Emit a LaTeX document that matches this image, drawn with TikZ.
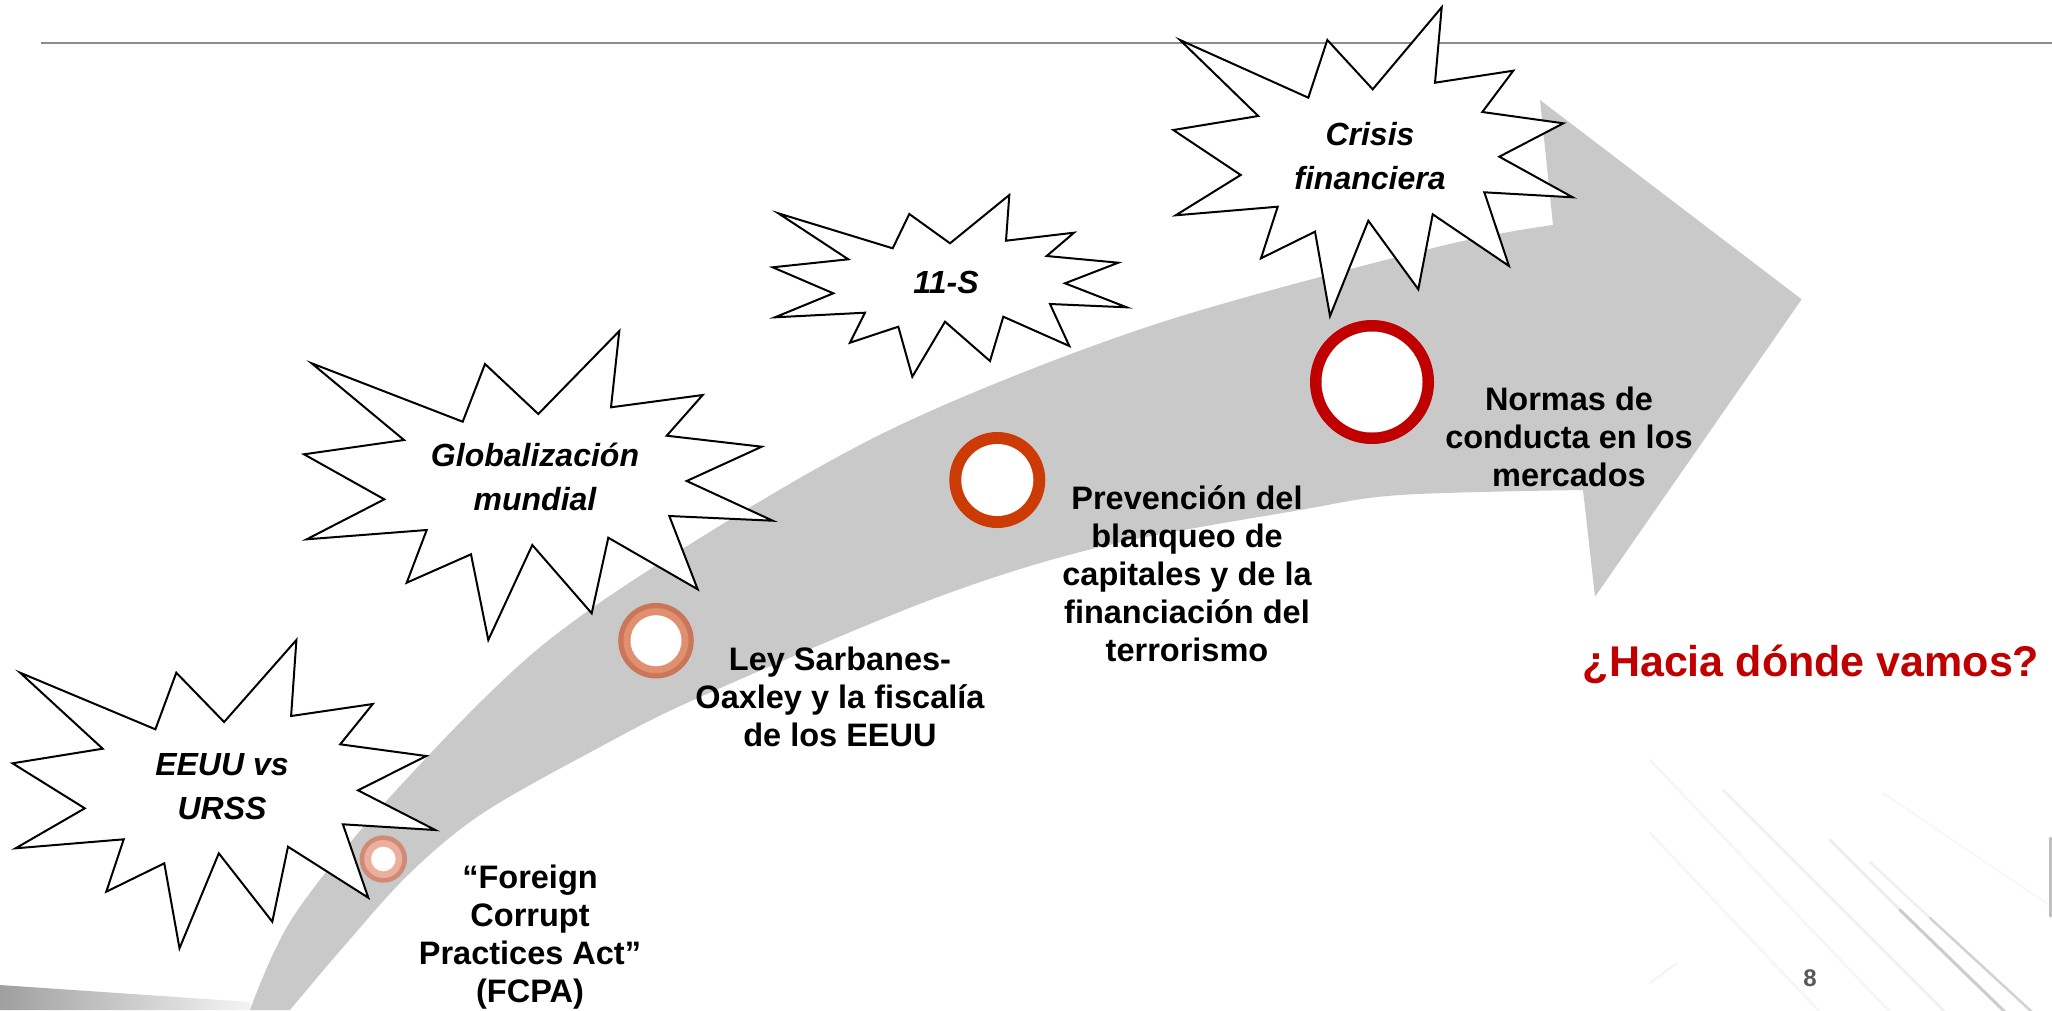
\documentclass[tikz,border=0pt]{standalone}
\usepackage{fontspec}
\setmainfont{Liberation Sans}
\definecolor{bandgray}{HTML}{C9C9C9}
\definecolor{rulegray}{HTML}{8C8C8C}
\definecolor{darkred}{HTML}{C00000}
\definecolor{orangered}{HTML}{CC3A05}
\definecolor{salmonA}{HTML}{CB7658}
\definecolor{salmonB}{HTML}{E0906F}
\definecolor{salmonC}{HTML}{CF8B77}
\definecolor{salmonD}{HTML}{EBAF9C}
\definecolor{pagegray}{HTML}{595959}
\begin{document}
\begin{tikzpicture}[x=1pt,y=-1pt,
  burst/.style={draw=black,fill=white,line width=2pt,line join=miter,miter limit=8},
  lbl/.style={font=\fontsize{32.5}{38}\selectfont\bfseries,align=center,inner sep=0pt},
  bursttext/.style={font=\fontsize{32}{44}\selectfont\bfseries\itshape,align=center,inner sep=0pt},
  streak/.style={line width=2.5pt,line cap=round}]
\useasboundingbox (0,0) rectangle (2052,1010);
\fill[white] (0,0) rectangle (2052,1010);

% faint background streaks
\draw[streak,gray!7] (1650,760) -- (1890,1012);
\draw[streak,gray!12] (1723,790) -- (1945,1012);
\draw[streak,gray!15] (1830,840) -- (1900,910);
\draw[streak,gray!40,line width=3pt] (1900,910) -- (2005,1012);
\draw[streak,gray!12] (1870,862) -- (1930,918);
\draw[streak,gray!35] (1930,918) -- (2032,1012);
\draw[streak,gray!7] (1650,833) -- (1820,1012);
\draw[streak,gray!7,line width=1.5pt] (1883,793) -- (2052,907);
\draw[streak,gray!50,line width=3pt] (2050,838) -- (2050,916);
\draw[streak,gray!10,line width=1.5pt] (1650,983) -- (1677,963);
\shade[left color=gray!75,right color=gray!8] (0,985) -- (250,1002) -- (252,1010) -- (0,1010) -- cycle;

% top rule
\draw[rulegray,line width=2pt] (41,42.7) -- (2052,42.7);

% curved arrow band
\fill[bandgray] plot[smooth,tension=0.55] coordinates {(250,1010) (293,917) (390,797) (536.7,650) (700,538) (900,425) (1150,326) (1433,248) (1553,225)}
  -- (1540,100) -- (1801.6,299.3) -- (1595,596.7) -- (1583,490)
  -- plot[smooth,tension=0.55] coordinates {(1583,490) (1400,495) (1300,510) (1100,547) (930,600) (700,697) (600,747) (483,813) (410,873) (345,945) (290,1010)}
  -- cycle;

% rings
\fill[salmonC] (383.3,859) circle (23.7pt);
\fill[salmonD] (383.3,859) circle (19pt);
\fill[white] (383.3,859) circle (12.3pt);
\fill[salmonA] (656,640.7) circle (37.8pt);
\fill[salmonB] (656,640.7) circle (32.5pt);
\fill[white] (656,640.7) circle (25.5pt);
\fill[orangered] (997.3,480) circle (48pt);
\fill[white] (997.3,480) circle (36pt);
\fill[darkred] (1372,382) circle (62pt);
\fill[white] (1372,382) circle (50.5pt);

% bursts
\draw[burst] (20.1,672.7) -- (155.4,729.3) -- (176.3,672.7) -- (224.1,722) -- (296.4,640) -- (291.1,716) -- (372.8,704) -- (340.2,744.3) -- (426.3,756) -- (358,790.3) -- (435.3,830) -- (342.9,824.3) -- (368.3,897.7) -- (288,846.7) -- (272.3,921.7) -- (218.8,853.3) -- (179.5,948.3) -- (164.3,863.3) -- (106.3,891.7) -- (123.7,839.3) -- (15.6,848.3) -- (84.8,808.3) -- (12.5,763.3) -- (102.7,748.7) -- cycle;
\draw[burst] (311.7,363.3) -- (462.7,421.7) -- (485,364) -- (538.3,414) -- (619.3,331) -- (611,407.3) -- (702.7,395) -- (666.7,435.7) -- (761.7,446.7) -- (686.7,481) -- (772.7,520.7) -- (669.3,516) -- (697.7,589.3) -- (608.3,537.7) -- (591.7,613.3) -- (532.3,545) -- (488.3,640) -- (471,554.3) -- (406.7,582.7) -- (426.7,530) -- (306.7,539.3) -- (384.3,499.3) -- (304,454.3) -- (404,440) -- cycle;
\draw[burst] (778.3,213.3) -- (892.7,248.3) -- (909.3,214) -- (950,243.3) -- (1009.3,195) -- (1006,240.7) -- (1074,232.7) -- (1046.7,256) -- (1118.3,262.7) -- (1065,283.3) -- (1126.7,307.3) -- (1050,304) -- (1069.3,346) -- (1003.3,316.7) -- (990,361) -- (945,321.7) -- (912.3,376.7) -- (898.3,326.7) -- (850,342.7) -- (865,312.7) -- (775,317.3) -- (833.3,293.3) -- (772.7,267.3) -- (848.3,259.3) -- cycle;
\draw[burst] (1180,40) -- (1308.3,97.7) -- (1327.3,40) -- (1372.7,89.3) -- (1441.7,7.3) -- (1435,82.7) -- (1513.3,70.7) -- (1482.3,112) -- (1563.3,123.3) -- (1499.3,156.7) -- (1572.7,197.3) -- (1484.3,192.3) -- (1509,266) -- (1432.7,214.3) -- (1418.3,289.3) -- (1368.3,220.7) -- (1330,316) -- (1315,231.7) -- (1261,258.3) -- (1277.7,206.7) -- (1175.7,215.3) -- (1240.7,175) -- (1173.3,130) -- (1258.3,116) -- cycle;

% burst texts
\node[bursttext] (eeuu) at (222,788.7) {\strut EEUU vs\\\strut URSS};
\node[bursttext] (glob) at (535,479.6) {\strut Globalización\\\strut mundial};
\node[bursttext] (sept) at (946,284.5) {\strut 11-S};
\node[bursttext] (crisis) at (1370,159) {\strut Crisis\\\strut financiera};

% labels
\node[lbl] (fcpa) at (530,937.4) {\strut “Foreign\\\strut Corrupt\\\strut Practices Act”\\\strut (FCPA)};
\node[lbl] (sox) at (840,700.7) {\strut Ley Sarbanes-\\\strut Oaxley y la fiscalía\\\strut de los EEUU};
\node[lbl] (prev) at (1187,578.3) {\strut Prevención del\\\strut blanqueo de\\\strut capitales y de la\\\strut financiación del\\\strut terrorismo};
\node[lbl] (normas) at (1569,441.3) {\strut Normas de\\\strut conducta en los\\\strut mercados};
\node[font=\fontsize{43}{50}\selectfont\bfseries,text=darkred,anchor=base,inner sep=0pt] (hacia) at (1811,676.7) {¿Hacia dónde vamos?};
\node[font=\fontsize{24}{28}\selectfont\bfseries,text=pagegray,anchor=base,inner sep=0pt] (pnum) at (1810,986.7) {8};
\end{tikzpicture}
\end{document}
